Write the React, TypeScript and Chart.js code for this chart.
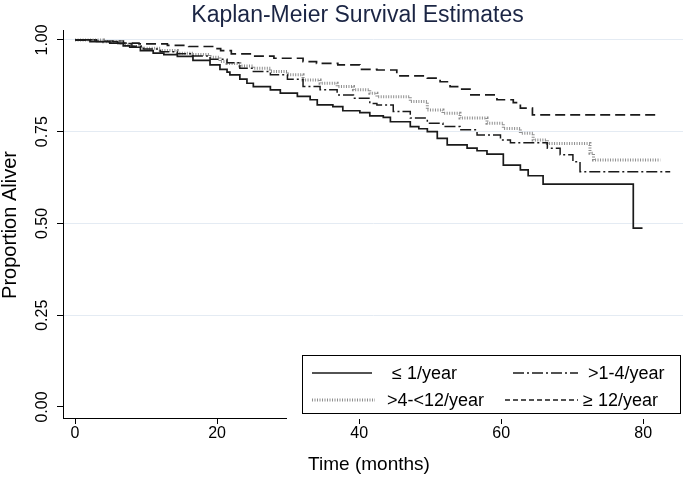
import React, { useEffect, useRef } from 'react';
import { Chart, registerables } from 'chart.js';

Chart.register(...registerables);

const titleText = 'Kaplan-Meier Survival Estimates';
const xTitle = 'Time (months)';
const yTitle = 'Proportion Aliver';
const xTicks = [0, 20, 40, 60, 80];
const xTickLabels = ['0', '20', '40', '60', '80'];
const yTicks = [0, 0.25, 0.5, 0.75, 1];
const yTickLabels = ['0.00', '0.25', '0.50', '0.75', '1.00'];
const seriesLabels = ['\u2264 1/year', '>1-4/year', '>4-<12/year', '\u2265 12/year'];

// ≤ 1/year (solid)
const t1 = [0, 2.1, 4.9, 6.8, 7.7, 9.2, 11, 12.5, 14.4, 16.6, 19, 20.4, 21.4, 21.8, 23.2, 24.2, 25.1, 27.5, 28.9, 31.3, 33.1, 34.1, 36.3, 37.7, 40.1, 41.5, 43.4, 44.4, 47.2, 48.4, 49.6, 51, 52.4, 55.2, 56.6, 58, 60.3, 62.7, 63.8, 65.9, 78.6, 79.9];
const s1 = [1, 0.995, 0.991, 0.984, 0.98, 0.971, 0.964, 0.96, 0.955, 0.944, 0.932, 0.92, 0.912, 0.905, 0.893, 0.882, 0.873, 0.864, 0.855, 0.846, 0.837, 0.823, 0.818, 0.807, 0.802, 0.793, 0.789, 0.777, 0.764, 0.758, 0.75, 0.732, 0.714, 0.705, 0.698, 0.689, 0.659, 0.646, 0.63, 0.607, 0.487, 0.487];

// >1-4/year (dash-dot)
const t2 = [0, 3, 6, 8, 9.6, 12, 14.4, 16.6, 19, 21.4, 23.2, 25.1, 27.5, 29.9, 32.1, 34.5, 36.9, 39.2, 41.5, 42.5, 44.8, 47.2, 49.6, 51.8, 54.2, 56.6, 59.9, 61.3, 66.5, 68.3, 70.1, 71.1, 83.8];
const s2 = [1, 0.996, 0.99, 0.983, 0.975, 0.968, 0.962, 0.956, 0.947, 0.938, 0.923, 0.914, 0.905, 0.893, 0.873, 0.864, 0.85, 0.841, 0.827, 0.823, 0.805, 0.787, 0.773, 0.764, 0.755, 0.741, 0.727, 0.72, 0.705, 0.687, 0.668, 0.641, 0.641];

// >4-<12/year (dotted, grey)
const t3 = [0, 4, 6.5, 8, 9.6, 12, 14.4, 16.6, 19, 20.4, 21.4, 23.2, 25.1, 27.5, 29.9, 32.1, 34.5, 36.9, 39.2, 41.5, 42.5, 47.2, 49.6, 51.8, 54.2, 58, 60.3, 62.7, 64.5, 66.5, 72.5, 73, 82.4];
const s3 = [1, 0.995, 0.986, 0.982, 0.977, 0.971, 0.964, 0.96, 0.953, 0.941, 0.936, 0.929, 0.923, 0.914, 0.905, 0.891, 0.882, 0.873, 0.864, 0.855, 0.845, 0.832, 0.809, 0.8, 0.787, 0.773, 0.759, 0.746, 0.727, 0.718, 0.691, 0.673, 0.673];

// ≥ 12/year (dashed)
const t4 = [0, 3, 6.8, 9, 13, 16, 19.5, 20.5, 22, 25, 28, 32.1, 34, 37, 40.1, 42.5, 45.3, 49.6, 51.4, 52.8, 54.2, 55.6, 59.4, 61.7, 62.7, 64.4, 82];
const s4 = [1, 0.997, 0.991, 0.989, 0.985, 0.982, 0.976, 0.971, 0.962, 0.956, 0.95, 0.941, 0.936, 0.932, 0.92, 0.918, 0.902, 0.896, 0.886, 0.873, 0.866, 0.85, 0.837, 0.829, 0.814, 0.796, 0.796];

const FONT = '"Liberation Sans", Arial, Helvetica, sans-serif';

const styles = [
  { color: '#1a1a1a', width: 1.7, dash: [] as number[] },
  { color: '#1a1a1a', width: 1.5, dash: [11, 3, 2, 3] },
  { color: '#8e8e8e', width: 3, dash: [1, 1.5] },
  { color: '#1a1a1a', width: 1.7, dash: [10, 5] },
];

const zip = (t: number[], s: number[]) => t.map((x, i) => ({ x, y: s[i] }));

const textPlugin = {
  id: 'kmText',
  afterDraw(chart: any) {
    const ctx = chart.ctx;
    const xs = chart.scales.x;
    const ys = chart.scales.y;
    ctx.save();
    ctx.fillStyle = '#000';
    // y tick labels (rotated)
    ctx.font = `16px ${FONT}`;
    yTicks.forEach((v, i) => {
      const py = ys.getPixelForValue(v);
      ctx.save();
      ctx.translate(47, py);
      ctx.rotate(-Math.PI / 2);
      ctx.textAlign = 'center';
      ctx.textBaseline = 'alphabetic';
      ctx.fillText(yTickLabels[i], 0, 0);
      ctx.restore();
    });
    // x tick labels
    xTicks.forEach((v, i) => {
      const px = xs.getPixelForValue(v);
      ctx.textAlign = 'center';
      ctx.textBaseline = 'alphabetic';
      ctx.fillText(xTickLabels[i], px, 437.5);
    });
    // y title
    ctx.save();
    ctx.font = `20px ${FONT}`;
    ctx.translate(15.5, 225);
    ctx.rotate(-Math.PI / 2);
    ctx.textAlign = 'center';
    ctx.fillText(yTitle, 0, 0);
    ctx.restore();
    // x title
    ctx.font = `19px ${FONT}`;
    ctx.textAlign = 'center';
    ctx.fillText(xTitle, 369, 470);
    // title
    ctx.font = `23px ${FONT}`;
    ctx.fillStyle = '#1b2544';
    ctx.fillText(titleText, 357.5, 21.5);

    // legend
    ctx.fillStyle = '#fff';
    ctx.fillRect(287, 350, 398, 69);
    ctx.strokeStyle = '#000';
    ctx.lineWidth = 1;
    ctx.setLineDash([]);
    ctx.strokeRect(302.5, 355.5, 378, 58);
    const items = [
      { i: 0, x0: 312, x1: 372, y: 373, tx: 392 },
      { i: 1, x0: 513, x1: 578, y: 373, tx: 588 },
      { i: 2, x0: 312, x1: 375, y: 400, tx: 387 },
      { i: 3, x0: 505, x1: 578, y: 400, tx: 583 },
    ];
    items.forEach((it) => {
      const st = styles[it.i];
      ctx.strokeStyle = st.color;
      ctx.lineWidth = st.width;
      ctx.setLineDash(it.i === 3 ? [5, 3] : st.dash);
      ctx.beginPath();
      ctx.moveTo(it.x0, it.y);
      ctx.lineTo(it.x1, it.y);
      ctx.stroke();
      ctx.setLineDash([]);
      ctx.fillStyle = '#000';
      ctx.font = `18px ${FONT}`;
      ctx.textAlign = 'left';
      ctx.textBaseline = 'middle';
      ctx.fillText(seriesLabels[it.i], it.tx, it.y + 1);
    });
    ctx.restore();
  },
};

export default function App() {
  const ref = useRef<HTMLCanvasElement | null>(null);
  useEffect(() => {
    document.body.style.margin = '0';
    const canvas = ref.current;
    if (!canvas) return;
    const datasets = [zip(t1, s1), zip(t2, s2), zip(t3, s3), zip(t4, s4)].map((d, i) => ({
      label: seriesLabels[i],
      data: d,
      borderColor: styles[i].color,
      borderWidth: styles[i].width,
      borderDash: styles[i].dash,
      pointRadius: 0,
      fill: false,
      stepped: 'before' as const,
    }));
    const chart = new Chart(canvas, {
      type: 'line',
      data: { datasets },
      options: {
        animation: false,
        responsive: true,
        maintainAspectRatio: false,
        devicePixelRatio: 1,
        layout: { padding: { top: 30, right: 2, left: 0, bottom: 0 } },
        plugins: { legend: { display: false }, title: { display: false }, tooltip: { enabled: false } },
        scales: {
          x: {
            type: 'linear',
            min: -1.7,
            max: 85.6,
            afterBuildTicks: (s: any) => { s.ticks = xTicks.map((v) => ({ value: v })); },
            afterFit: (s: any) => { s.height = 61; },
            ticks: { display: false },
            grid: { drawOnChartArea: false, drawTicks: true, tickLength: 6, tickColor: '#000', tickWidth: 1 },
            border: { display: true, color: '#000', width: 1 },
          },
          y: {
            type: 'linear',
            min: -0.03,
            max: 1.027,
            afterBuildTicks: (s: any) => { s.ticks = yTicks.map((v) => ({ value: v })); },
            afterFit: (s: any) => { s.width = 63; },
            ticks: { display: false },
            grid: {
              drawOnChartArea: true,
              drawTicks: true,
              tickLength: 6,
              tickColor: '#000',
              color: (c: any) => (c.tick && c.tick.value === 0 ? 'rgba(0,0,0,0)' : '#e4ebf3'),
              lineWidth: 1,
            },
            border: { display: true, color: '#000', width: 1 },
          },
        },
      },
      plugins: [textPlugin],
    });
    return () => chart.destroy();
  }, []);
  return (
    <div style={{ position: 'relative', width: 685, height: 479, background: '#fff' }}>
      <canvas ref={ref} />
    </div>
  );
}
